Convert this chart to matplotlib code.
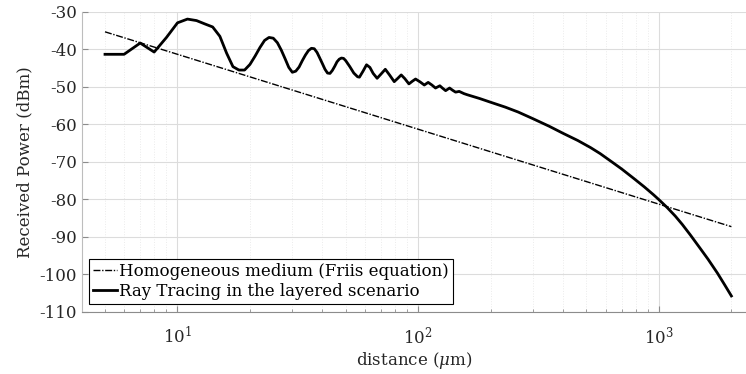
import numpy as np
import matplotlib
matplotlib.use('Agg')
import matplotlib.pyplot as plt

plt.rcParams['font.family'] = 'DejaVu Serif'
plt.rcParams['mathtext.fontset'] = 'dejavuserif'
plt.rcParams['axes.unicode_minus'] = False

# Friis (homogeneous medium), straight line on the log axis
friis_d = [5, 10, 100, 1000, 2000]
friis_p = [-35.3, -41.3, -61.3, -81.3, -87.3]

# ray tracing in the layered scenario
ray_d = [5, 6, 7, 8, 9, 10, 11, 12, 13, 14, 15, 16, 17, 18, 19,
         20, 21, 22, 23, 24, 25, 26, 27, 28, 29, 30, 31, 32, 33, 34, 35, 36, 37, 38, 39,
         40, 41, 42, 43, 44, 45, 46, 47, 48, 49, 50, 52, 54, 56, 57, 59, 61, 63, 65,
         67.5, 70, 73, 76, 79.5, 82, 85, 88, 91.5, 94.5, 97.5, 102, 106, 110, 114,
         118, 123, 126, 130, 135, 139, 143, 148, 155, 160, 180, 200, 230, 260, 300,
         350, 400, 460, 520, 570, 640, 700, 785, 870, 950, 1000, 1082, 1170, 1250,
         1350, 1480, 1600, 1750, 1870, 2000]
ray_p = [-41.3, -41.3, -38.3, -40.7, -36.8, -32.9, -31.9, -32.3, -33.2, -34.0, -36.5, -41.0, -44.6, -45.5, -45.5,
         -44.0, -41.8, -39.5, -37.6, -36.8, -37.0, -38.2, -40.2, -42.5, -44.8, -46.1, -45.8, -44.7, -43.0, -41.5, -40.3, -39.7, -39.8, -40.8, -42.3,
         -43.8, -45.3, -46.3, -46.4, -45.6, -44.5, -43.3, -42.6, -42.3, -42.4, -43.0, -44.6, -46.3, -47.3, -47.4, -45.8, -44.1, -44.8, -46.4,
         -47.7, -46.6, -45.3, -46.8, -48.6, -47.8, -46.8, -47.8, -49.2, -48.5, -47.9, -48.7, -49.5, -48.8, -49.5,
         -50.3, -49.7, -50.3, -51.0, -50.3, -50.9, -51.4, -51.2, -51.8, -52.1, -53.1, -54.1, -55.4, -56.7, -58.5,
         -60.5, -62.4, -64.3, -66.2, -67.8, -70.1, -71.9, -74.4, -76.7, -78.8, -80.1, -82.2, -84.5, -86.7,
         -89.5, -93.0, -96.0, -99.7, -102.7, -105.8]

y_ticks = list(range(-110, -29, 10))

fig = plt.figure(figsize=(7.46, 3.74), dpi=100)
ax = fig.add_axes([0.1095, 0.1666, 0.8905, 0.8014])

ax.plot(friis_d, friis_p, color='black', lw=1.0, linestyle=(0, (5, 1.2, 1, 1.2)),
        label='Homogeneous medium (Friis equation)')
ax.plot(ray_d, ray_p, color='black', lw=2.0, label='Ray Tracing in the layered scenario')

ax.set_xscale('log')
ax.set_xlim(4, 2300)
ax.set_ylim(-110, -30)
ax.set_yticks(y_ticks)

ax.grid(True, which='major', color='#dcdcdc', lw=0.8)
ax.grid(True, which='minor', color='#ebebeb', lw=0.7, linestyle=':')
ax.set_axisbelow(True)

for s in ['top', 'right']:
    ax.spines[s].set_visible(False)
ax.spines['left'].set_color('#bdbdbd')
ax.spines['bottom'].set_color('#8c8c8c')
ax.tick_params(which='both', direction='in', colors='#8c8c8c', labelcolor='#262626', labelsize=12)
ax.tick_params(which='major', length=4)
ax.tick_params(which='minor', length=2.5)
ax.tick_params(axis='x', which='major', pad=10)

ax.set_xlabel('distance ($\\mu$m)', fontsize=12, color='#262626', labelpad=2)
ax.set_ylabel('Received Power (dBm)', fontsize=12, color='#262626', labelpad=4)

leg = ax.legend(loc='lower left', fontsize=12, handlelength=1.4, handletextpad=0.15,
                labelspacing=0.2, borderpad=0.25, borderaxespad=0.45, fancybox=False,
                framealpha=1)
leg.get_frame().set_edgecolor('black')
leg.get_frame().set_linewidth(0.8)

fig.savefig('out.png', dpi=100)
